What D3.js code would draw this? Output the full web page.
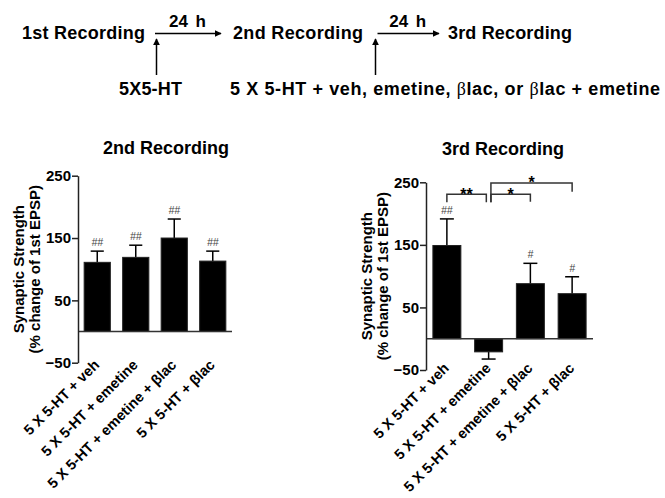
<!DOCTYPE html>
<html>
<head>
<meta charset="utf-8">
<script src="https://cdn.jsdelivr.net/npm/d3@7"></script>
<style>
  body { margin: 0; background: #fff; }
  text { font-family: "Liberation Sans", Arial, sans-serif; }
</style>
</head>
<body>
<div id="wrapper"></div>
<script>
// data
const groups = [
  "5 X 5-HT + veh",
  "5 X 5-HT + emetine",
  "5 X 5-HT + emetine + βlac",
  "5 X 5-HT + βlac",
];
const secondMeans = [111, 119, 150, 113];
const secondErrors = [18, 19.5, 30.5, 16];
const secondMarks = ["##", "##", "##", "##"];
const thirdMeans = [149, -21, 88, 72];
const thirdErrors = [42.5, 11.5, 32.5, 27];
const thirdMarks = ["##", "", "#", "#"];
const yTicks = [-50, 50, 150, 250];
const yDomain = [-50, 250];
// significance brackets of the 3rd recording (group indexes, levels in % units)
const bracketFrom = [0, 1, 1];
const bracketTo = [1, 2, 3];
const bracketLevel = [231, 231, 249];
const bracketDropFrom = [218, 218, 218];
const bracketDropTo = [218, 219, 235];
const bracketLabels = ["**", "*", "*"];
// protocol timeline
const stages = ["1st Recording", "2nd Recording", "3rd Recording"];
const intervals = ["24 h", "24 h"];
const treatments = ["5X5-HT", "5 X 5-HT + veh, emetine,  βlac, or βlac + emetine"];

function drawFigure() {
  const svg = d3
    .select("#wrapper")
    .append("svg")
    .attr("width", 665)
    .attr("height", 498);

  svg.append("rect").attr("width", 665).attr("height", 498).attr("fill", "#fff");

  const defs = svg.append("defs");
  defs
    .append("marker")
    .attr("id", "head")
    .attr("viewBox", "0 0 10 10")
    .attr("refX", 9)
    .attr("refY", 5)
    .attr("markerWidth", 7)
    .attr("markerHeight", 7)
    .attr("markerUnits", "userSpaceOnUse")
    .attr("orient", "auto")
    .append("path")
    .attr("d", "M0,0 L10,5 L0,10 z")
    .attr("fill", "#000");

  // timeline at the top
  const top = svg.append("g");
  const stageX = [22, 233, 448];
  const stageLen = [123, 130, 124];
  top
    .selectAll(".stage")
    .data(stages)
    .enter()
    .append("text")
    .attr("class", "stage")
    .attr("x", (d, i) => stageX[i])
    .attr("y", 38.5)
    .attr("font-size", 18)
    .attr("font-weight", "bold")
    .attr("textLength", (d, i) => stageLen[i])
    .attr("lengthAdjust", "spacing")
    .text((d) => d);

  const arrowX = [
    [155, 221],
    [377.5, 439],
  ];
  top
    .selectAll(".step")
    .data(intervals)
    .enter()
    .append("line")
    .attr("x1", (d, i) => arrowX[i][0])
    .attr("x2", (d, i) => arrowX[i][1])
    .attr("y1", 33.5)
    .attr("y2", 33.5)
    .attr("stroke", "#000")
    .attr("stroke-width", 1.5)
    .attr("marker-end", "url(#head)");

  top
    .selectAll(".interval")
    .data(intervals)
    .enter()
    .append("text")
    .attr("x", (d, i) => (arrowX[i][0] + arrowX[i][1]) / 2 - 0.5)
    .attr("y", 27)
    .attr("text-anchor", "middle")
    .attr("font-size", 17)
    .attr("font-weight", "bold")
    .attr("word-spacing", 3)
    .text((d) => d);

  const upX = [156.5, 375.5];
  top
    .selectAll(".up")
    .data(treatments)
    .enter()
    .append("line")
    .attr("x1", (d, i) => upX[i])
    .attr("x2", (d, i) => upX[i])
    .attr("y1", 75)
    .attr("y2", 39)
    .attr("stroke", "#000")
    .attr("stroke-width", 1.5)
    .attr("marker-end", "url(#head)");

  const treatX = [119, 230];
  const treatLen = [63, 430];
  const treat = top
    .selectAll(".treat")
    .data(treatments)
    .enter()
    .append("text")
    .attr("x", (d, i) => treatX[i])
    .attr("y", 95)
    .attr("font-size", 18)
    .attr("font-weight", "bold")
    .attr("textLength", (d, i) => treatLen[i])
    .attr("lengthAdjust", "spacing");
  treat.each(function (d) {
    const parts = d.split("β");
    const t = d3.select(this);
    parts.forEach((p, j) => {
      if (j > 0)
        t.append("tspan")
          .attr("font-family", "'Liberation Serif', 'Times New Roman', serif")
          .attr("font-weight", "normal")
          .text("β");
      t.append("tspan").text(p);
    });
  });

  // bar panels
  drawPanel(svg, {
    title: "2nd Recording",
    titleX: 166,
    titleY: 154,
    xRange: [78, 232],
    yRange: [362.7, 175.7],
    padding: 0.32,
    labelDy: 3,
    means: secondMeans,
    errors: secondErrors,
    marks: secondMarks,
  });

  const third = drawPanel(svg, {
    title: "3rd Recording",
    titleX: 503,
    titleY: 154.5,
    xRange: [426, 593],
    yRange: [370, 182.3],
    padding: 0.33,
    labelDy: -1,
    means: thirdMeans,
    errors: thirdErrors,
    marks: thirdMarks,
  });

  // significance brackets
  const { x, y, g } = third;
  const gap = 2.3;
  const bx = (i, side) => x(groups[i]) + x.bandwidth() / 2 + side * gap;
  bracketLabels.forEach((lab, k) => {
    const a = bx(bracketFrom[k], bracketFrom[k] === 1 ? 1 : 0);
    const b = bx(bracketTo[k], bracketTo[k] === 1 ? -1 : 0);
    g.append("path")
      .attr(
        "d",
        `M${a},${y(bracketDropFrom[k])} V${y(bracketLevel[k])} H${b} V${y(
          bracketDropTo[k]
        )}`
      )
      .attr("fill", "none")
      .attr("stroke", "#333")
      .attr("stroke-width", 1.5);
    g.append("text")
      .attr("x", (a + b) / 2)
      .attr("y", y(bracketLevel[k]) + 5.5)
      .attr("text-anchor", "middle")
      .attr("font-size", 16)
      .attr("font-weight", "bold")
      .attr("fill", "#000")
      .text(lab);
  });
}

function drawPanel(svg, opt) {
  const g = svg.append("g");

  const x = d3
    .scaleBand()
    .domain(groups)
    .range(opt.xRange)
    .paddingInner(opt.padding)
    .paddingOuter(opt.padding / 2);
  const y = d3.scaleLinear().domain(yDomain).range(opt.yRange);

  const rows = groups.map((d, i) => ({
    group: d,
    mean: opt.means[i],
    err: opt.errors[i],
    mark: opt.marks[i],
  }));

  // title
  g.append("text")
    .attr("x", opt.titleX)
    .attr("y", opt.titleY)
    .attr("text-anchor", "middle")
    .attr("font-size", 18)
    .attr("font-weight", "bold")
    .text(opt.title);

  // error bars (drawn first so bars cover the stem)
  const cx = (d) => x(d.group) + x.bandwidth() / 2;
  const tip = (d) => y(d.mean + Math.sign(d.mean) * d.err);
  g.selectAll(".stem")
    .data(rows)
    .enter()
    .append("line")
    .attr("x1", cx)
    .attr("x2", cx)
    .attr("y1", (d) => y(d.mean))
    .attr("y2", tip)
    .attr("stroke", "#000")
    .attr("stroke-width", 1.5);
  g.selectAll(".cap")
    .data(rows)
    .enter()
    .append("line")
    .attr("x1", (d) => cx(d) - x.bandwidth() / 4)
    .attr("x2", (d) => cx(d) + x.bandwidth() / 4)
    .attr("y1", tip)
    .attr("y2", tip)
    .attr("stroke", "#000")
    .attr("stroke-width", 1.5);

  // bars
  g.selectAll(".bar")
    .data(rows)
    .enter()
    .append("rect")
    .attr("x", (d) => x(d.group))
    .attr("width", x.bandwidth())
    .attr("y", (d) => y(Math.max(0, d.mean)))
    .attr("height", (d) => Math.abs(y(d.mean) - y(0)))
    .attr("fill", "#000")
    .attr("stroke", "#222")
    .attr("stroke-width", 1);

  // # marks above error bars
  g.selectAll(".mark")
    .data(rows.filter((d) => d.mark))
    .enter()
    .append("text")
    .attr("x", cx)
    .attr("y", (d) => tip(d) - 5)
    .attr("text-anchor", "middle")
    .attr("font-size", 10.5)
    .attr("font-style", "italic")
    .attr("fill", "#444")
    .text((d) => d.mark);

  // zero line
  g.append("line")
    .attr("x1", opt.xRange[0])
    .attr("x2", opt.xRange[1])
    .attr("y1", y(0))
    .attr("y2", y(0))
    .attr("stroke", "#333")
    .attr("stroke-width", 1.5);

  // y axis
  const yAxis = g
    .append("g")
    .attr("transform", `translate(${opt.xRange[0]},0)`)
    .call(
      d3.axisLeft(y).tickValues(yTicks).tickSize(6).tickSizeOuter(0).tickPadding(1)
    );
  yAxis.select(".domain").attr("stroke", "#222").attr("stroke-width", 1.5);
  yAxis.selectAll(".tick line").attr("stroke", "#222").attr("stroke-width", 1.5);
  yAxis
    .selectAll(".tick text")
    .attr("font-size", 15)
    .attr("font-weight", "bold")
    .attr("font-family", "'Liberation Sans', Arial, sans-serif")
    .attr("fill", "#000");

  // y title, two lines
  const midY = (opt.yRange[0] + opt.yRange[1]) / 2;
  const yTitle = ["Synaptic Strength", "(% change of 1st EPSP)"];
  g.selectAll(".ytitle")
    .data(yTitle)
    .enter()
    .append("text")
    .attr(
      "transform",
      (d, i) => `translate(${opt.xRange[0] - 54 + i * 15.5},${midY}) rotate(-90)`
    )
    .attr("text-anchor", "middle")
    .attr("font-size", 15)
    .attr("font-weight", "bold")
    .text((d) => d);

  // rotated category labels
  g.selectAll(".xlabel")
    .data(groups)
    .enter()
    .append("text")
    .attr(
      "transform",
      (d) =>
        `translate(${x(d) + x.bandwidth() / 2 + 3},${opt.yRange[0] + opt.labelDy}) rotate(-45)`
    )
    .attr("text-anchor", "end")
    .attr("font-size", 14.5)
    .attr("font-weight", "bold")
    .text((d) => d);

  return { x, y, g };
}

drawFigure();
</script>
</body>
</html>
